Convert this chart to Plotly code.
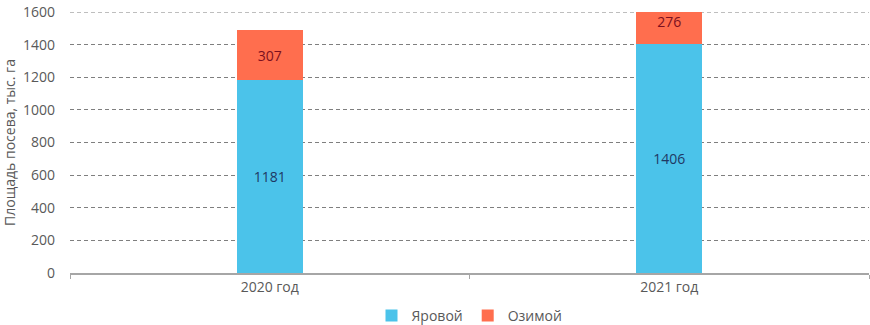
import plotly.graph_objects as go

categories = ["2020 год", "2021 год"]
spring = [1181, 1406]
winter = [307, 276]
y_ticks = [0, 200, 400, 600, 800, 1000, 1200, 1400, 1600]

font_family = "Open Sans, Noto Sans, sans-serif"

H = 325
top, bottom_m = 12, 4
plot_h = H - top - bottom_m          # paper area height
axis_bottom_px = 273
dom0 = (H - bottom_m - axis_bottom_px) / plot_h

fig = go.Figure()
fig.add_trace(go.Bar(
    name="Яровой", x=categories, y=spring, marker_color="#4BC3EA",
    text=[str(v) for v in spring], textposition="inside", insidetextanchor="middle",
    textfont=dict(color="#1F3864", size=14, family=font_family),
    width=0.165, marker_line_width=0,
))
fig.add_trace(go.Bar(
    name="Озимой", x=categories, y=winter, marker_color="#FF6E4E",
    text=[str(v) for v in winter], textposition="inside", insidetextanchor="middle",
    textfont=dict(color="#7B1020", size=14, family=font_family),
    width=0.165, marker_line_width=0,
))

# top gridline (Plotly drops the gridline sitting exactly on the range edge)
fig.add_shape(type="line", xref="paper", x0=0, x1=1, yref="y",
              y0=y_ticks[-1], y1=y_ticks[-1], layer="below",
              line=dict(color="#7F7F7F", width=1, dash="4px,3px"))

fig.update_layout(
    barmode="stack",
    width=870, height=H,
    margin=dict(l=70, r=1, t=top, b=bottom_m, autoexpand=False),
    plot_bgcolor="white", paper_bgcolor="white",
    font=dict(family=font_family, size=13, color="#595959"),
    legend=dict(orientation="h", x=0.5, xanchor="center",
                y=(H - bottom_m - 316) / plot_h, yanchor="middle",
                font=dict(size=14, color="#595959"), itemwidth=30,
                traceorder="normal", tracegroupgap=0, bgcolor="rgba(0,0,0,0)"),
    uniformtext=dict(mode="show", minsize=10),
)
fig.update_xaxes(
    showgrid=False, showline=True, linecolor="#A6A6A6", linewidth=1.5,
    ticks="outside", tickson="boundaries", ticklen=4, tickcolor="#A6A6A6",
    tickfont=dict(size=14, color="#595959"), automargin=False,
)
fig.update_yaxes(
    domain=[dom0, 1],
    range=[0, 1600], tickvals=y_ticks, showgrid=True, gridcolor="#7F7F7F",
    griddash="4px,3px", gridwidth=1, zeroline=False, showline=False,
    tickfont=dict(size=14, color="#595959"), ticks="", ticklabelstandoff=14,
    automargin=False,
    title=dict(text="Площадь посева, тыс. га", font=dict(size=14, color="#595959"), standoff=4),
)

fig.write_html(
    "out.html",
    config={"displayModeBar": False},
    post_script="document.body.style.margin='0';document.body.style.overflow='hidden';",
)
